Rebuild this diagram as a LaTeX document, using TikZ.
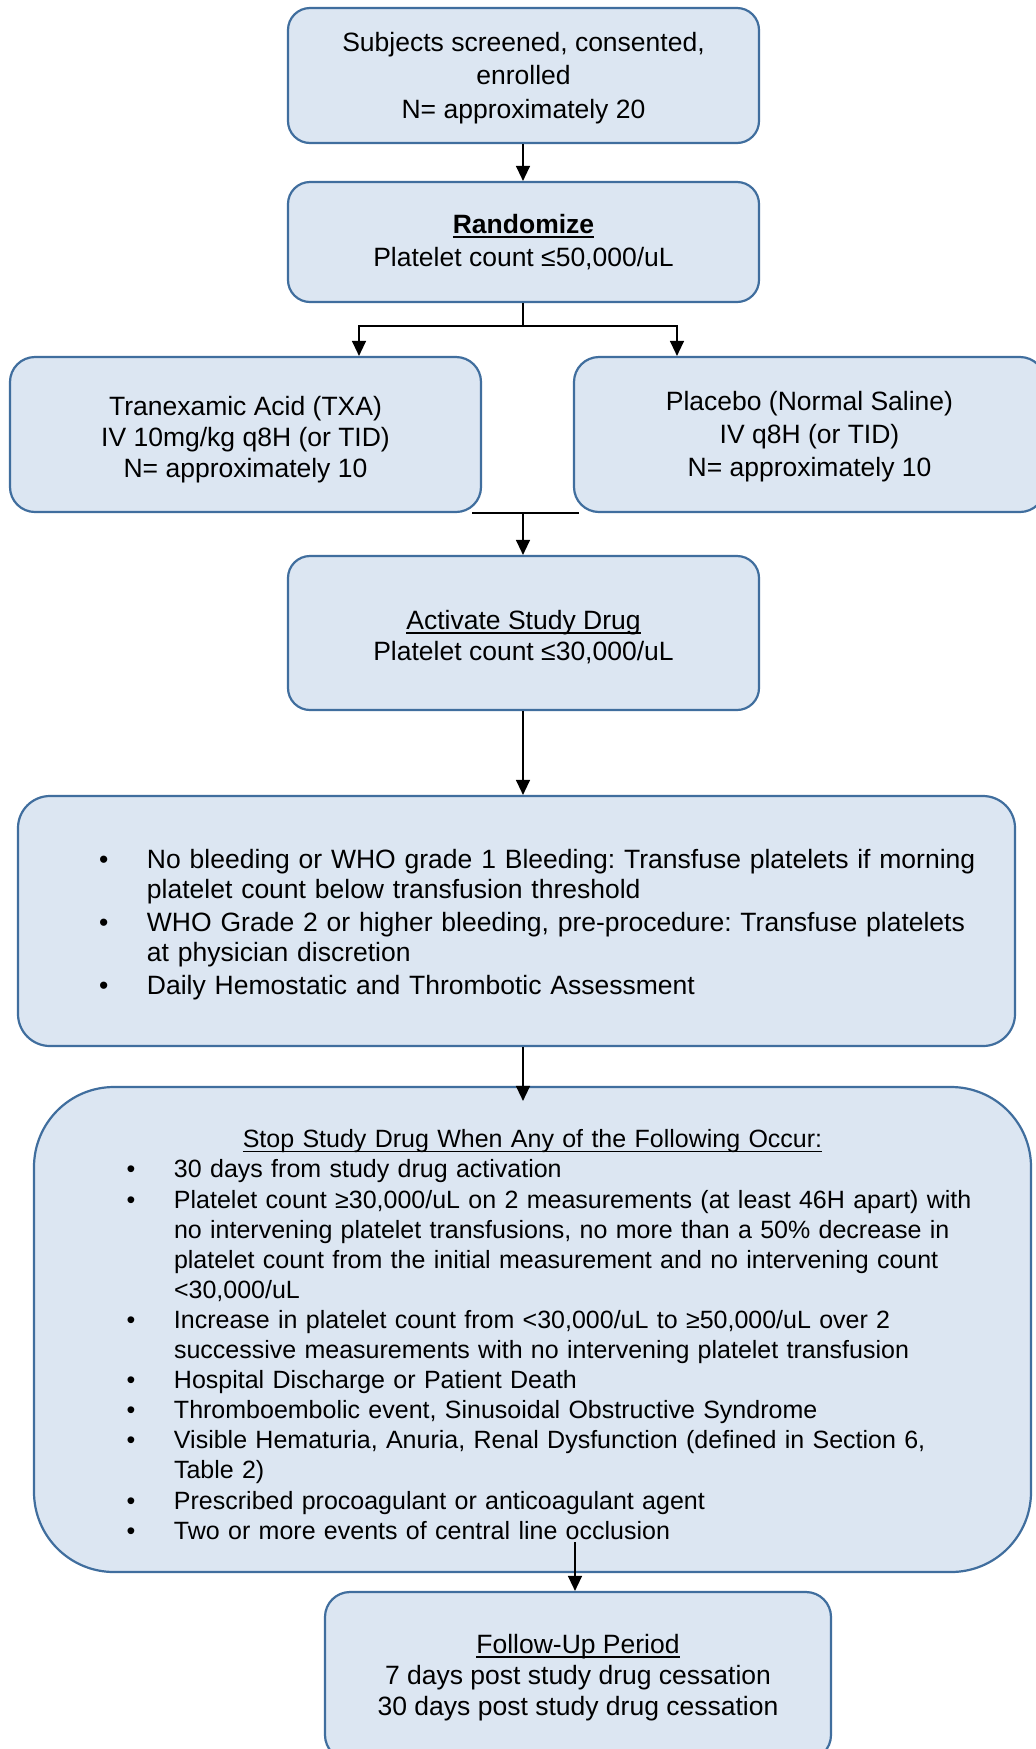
\documentclass[tikz,border=0pt]{standalone}
\usepackage{fontspec}
\setmainfont{Liberation Sans}
\usetikzlibrary{arrows.meta,calc}
\definecolor{boxfill}{RGB}{220,230,242}
\definecolor{boxline}{RGB}{64,110,158}
\newcommand\myul[1]{\leavevmode\setbox0=\hbox{#1}\rlap{\rule[-4.5pt]{\wd0}{1.5pt}}\box0}
\newcommand\myulb[1]{\leavevmode\setbox0=\hbox{#1}\rlap{\rule[-5pt]{\wd0}{2.2pt}}\box0}
\newcommand\bul{\leavevmode\llap{\textbullet\hspace{38.5pt}}}
\begin{document}
\frenchspacing
\hyphenpenalty=10000
\begin{tikzpicture}[x=1pt,y=-1pt,
  box/.style={draw=boxline, fill=boxfill, line width=2.2pt, rounded corners=22pt,
    align=center, inner sep=0pt, font=\fontsize{26.5}{32}\selectfont},
  arr/.style={line width=1.3pt, -{Triangle[width=14pt,length=15pt]}},
  conn/.style={line width=1.3pt}]
\useasboundingbox (0,0) rectangle (1036,1749);
\clip (0,0) rectangle (1036,1749);
\fill[white] (0,0) rectangle (1036,1749);

\node[box, minimum width=471, minimum height=135, font=\fontsize{26.5}{33.5}\selectfont] (b1) at (523.5,75.5)
  {\rule{0pt}{24pt}Subjects screened, consented,\\enrolled\\N= approximately 20};
\node[box, minimum width=471, minimum height=120, font=\fontsize{26.5}{33}\selectfont] (b2) at (523.5,242)
  {\textbf{\myulb{Randomize}}\\Platelet count ≤50,000/uL};
\node[box, rounded corners=25pt, minimum width=471, minimum height=155, font=\fontsize{26.5}{31}\selectfont] (txa) at (245.5,434.5)
  {\rule{0pt}{28.5pt}Tranexamic Acid (TXA)\\IV 10mg/kg q8H (or TID)\\N= approximately 10};
\node[box, rounded corners=25pt, minimum width=471, minimum height=155, font=\fontsize{26.5}{33}\selectfont] (plc) at (809.5,434.5)
  {\rule{0pt}{24pt}Placebo (Normal Saline)\\IV q8H (or TID)\\N= approximately 10};
\node[box, minimum width=471, minimum height=154, font=\fontsize{26.5}{31}\selectfont] (b3) at (523.5,633)
  {\rule{0pt}{26.5pt}\myul{Activate Study Drug}\\Platelet count ≤30,000/uL};
\node[box, rounded corners=32pt, minimum width=997, minimum height=250, text width=960, align=left,
  font=\fontsize{26.5}{30}\selectfont] (b4) at (516.5,921)
  {\leftskip=110.5pt
   \bul\rule{0pt}{27.4pt}No bleeding or WHO grade 1 Bleeding: Transfuse platelets if morning\\
   platelet count below transfusion threshold\\[3pt]
   \bul WHO Grade 2 or higher bleeding, pre-procedure: Transfuse platelets\\
   at physician discretion\\[3pt]
   \bul Daily Hemostatic and Thrombotic Assessment\par};
\node[box, rounded corners=80pt, minimum width=997, minimum height=485, text width=960, align=left,
  font=\fontsize{25}{30.1}\selectfont] (b5) at (532.5,1329.5)
  {\begingroup\leftskip=0pt plus 1fil\rightskip=0pt plus 1fil\parfillskip=0pt
   \rule{0pt}{28.3pt}\myul{Stop Study Drug When Any of the Following Occur:}\par\endgroup
   \leftskip=121.5pt
   \bul 30 days from study drug activation\\
   \bul Platelet count ≥30,000/uL on 2 measurements (at least 46H apart) with\\
   no intervening platelet transfusions, no more than a 50\% decrease in\\
   platelet count from the initial measurement and no intervening count\\
   <30,000/uL\\
   \bul Increase in platelet count from <30,000/uL to ≥50,000/uL over 2\\
   successive measurements with no intervening platelet transfusion\\
   \bul Hospital Discharge or Patient Death\\
   \bul Thromboembolic event, Sinusoidal Obstructive Syndrome\\
   \bul Visible Hematuria, Anuria, Renal Dysfunction (defined in Section 6,\\
   Table 2)\\
   \bul Prescribed procoagulant or anticoagulant agent\\
   \bul Two or more events of central line occlusion\par};
\node[box, rounded corners=25pt, minimum width=506, minimum height=168, font=\fontsize{26.5}{31}\selectfont] (b6) at (578,1676)
  {\rule{0pt}{22pt}\myul{Follow-Up Period}\\7 days post study drug cessation\\30 days post study drug cessation};

% connectors
\coordinate (col) at (523,0);
\draw[arr] (b1.south -| col) -- (b2.north -| col);
\coordinate (split) at (523,326);
\coordinate (sl) at (359,326);
\coordinate (sr) at (677,326);
\draw[conn] (b2.south -| col) -- (split);
\draw[arr] (split) -- (sl) -- (sl |- txa.north);
\draw[arr] (split) -- (sr) -- (sr |- plc.north);
\coordinate (ml) at ($(txa.south east)+(-10,0)$);
\coordinate (mr) at ($(plc.south west)+(6,0)$);
\draw[conn] (ml) -- (mr);
\draw[arr] (ml -| col) -- (b3.north -| col);
\draw[arr] (b3.south -| col) -- (b4.north -| col);
\draw[arr] (b4.south -| col) -- ($(b5.north -| col)+(0,15)$);
\coordinate (s6) at (575,1542);
\draw[arr] (s6) -- (s6 |- b6.north);
\end{tikzpicture}
\end{document}
